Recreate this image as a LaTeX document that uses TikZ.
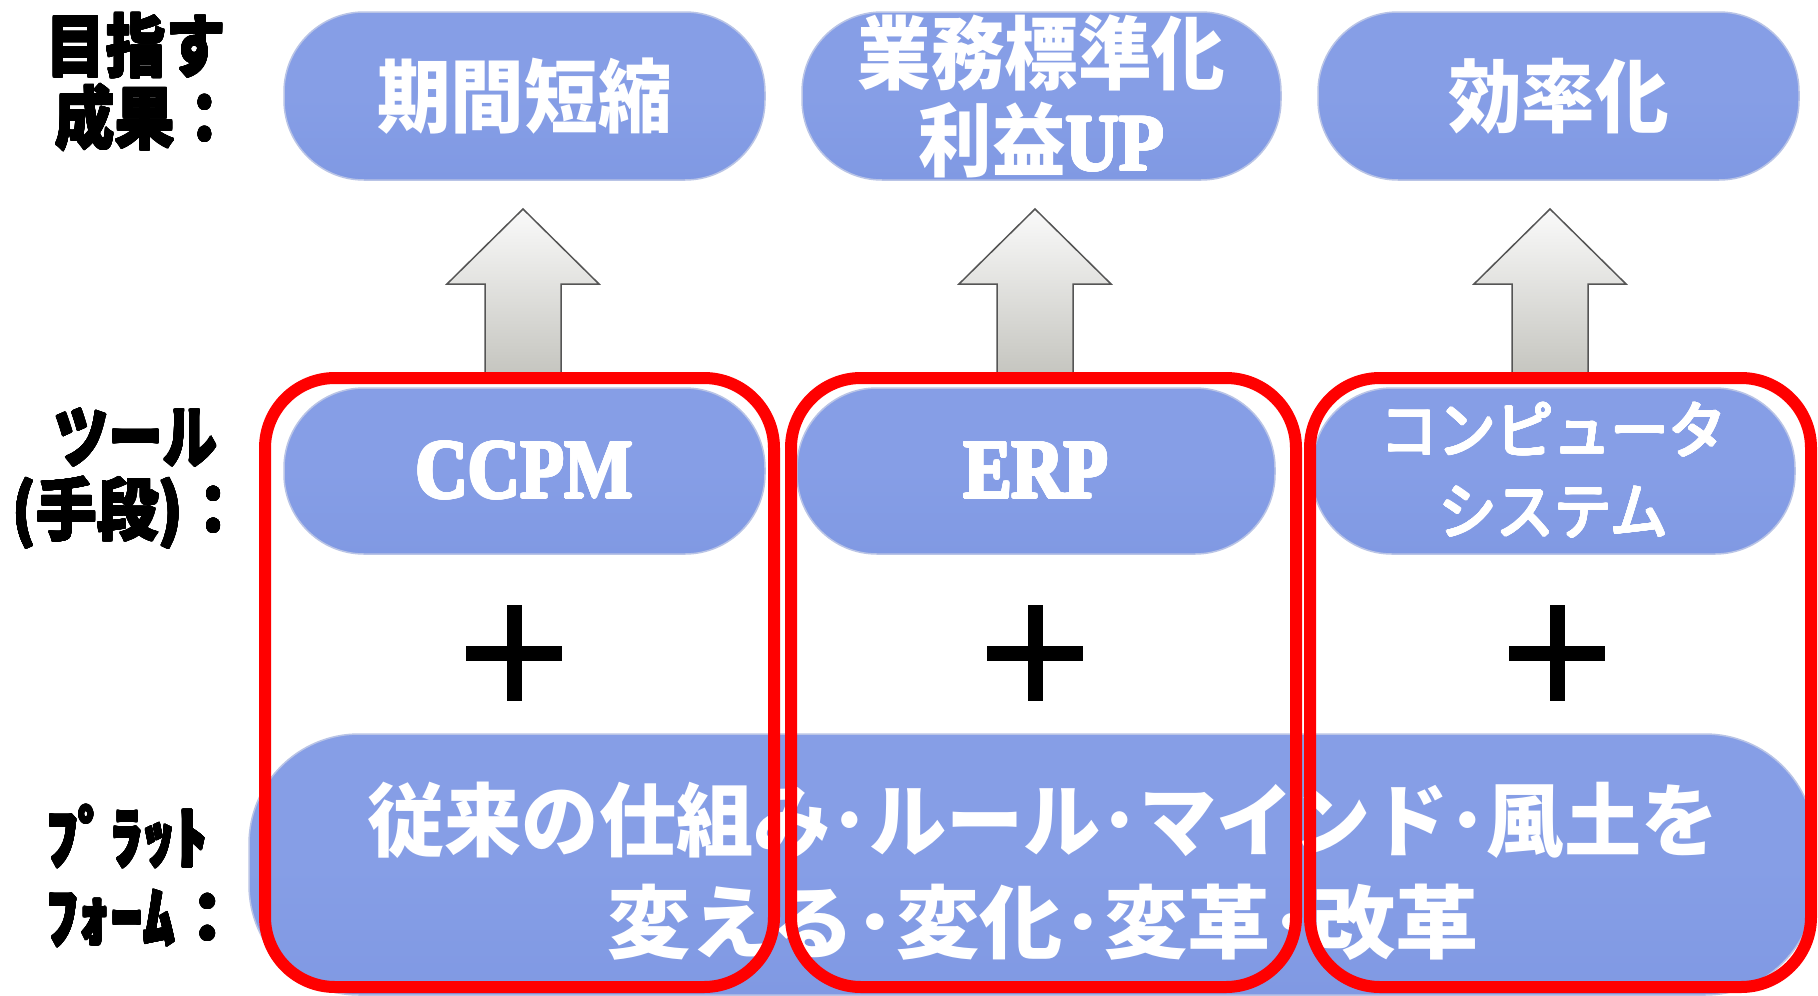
\documentclass[tikz,border=0pt]{standalone}
\usepackage{fontspec}
\usepackage{contour}
\contournumber{24}
\setmainfont{Liberation Serif}
\newfontfamily\jp{Noto Sans CJK JP}
\usetikzlibrary{calc}
\definecolor{pillTop}{RGB}{180,204,253}
\definecolor{pillMid}{RGB}{134,158,230}
\definecolor{pillBot}{RGB}{122,148,224}
\definecolor{pillEdge}{RGB}{185,196,230}
\definecolor{arrTop}{RGB}{250,250,250}
\definecolor{arrBot}{RGB}{196,196,190}
\definecolor{arrEdge}{RGB}{85,85,85}
\pgfdeclareverticalshading{pillshade}{100bp}{color(0bp)=(pillBot); color(50bp)=(pillMid); color(80bp)=(pillMid); color(100bp)=(pillTop)}
\newcommand{\cond}[2]{\scalebox{#1}[1]{#2}}
\newcommand{\thickw}[2]{\contourlength{#1}\contour{white}{#2}}
\newcommand{\thickb}[2]{\contourlength{#1}\contour{black}{#2}}
\begin{document}
\begin{tikzpicture}[x=1pt,y=-1pt,
  pill/.style={rounded corners=80pt, shading=pillshade, shading angle=0,
    draw=pillEdge, line width=1.5pt, inner sep=0pt, text=white, align=center},
  jptxt/.style={font=\jp\bfseries\fontsize{80}{87}\selectfont},
  latxt/.style={font=\bfseries\fontsize{84}{90}\selectfont},
  lab/.style={font=\jp\bfseries\fontsize{68}{70}\selectfont, text=black, inner sep=0pt},
  redbox/.style={draw=red, line width=12pt, rounded corners=70pt, inner sep=0pt},
  blockarrow/.style={top color=arrTop, bottom color=arrBot, draw=arrEdge, line width=1.5pt}]
\useasboundingbox (0,0) rectangle (1818,996);
\fill[white] (0,0) rectangle (1818,996);

% bottom platform pill
\node[pill, rounded corners=110pt, minimum width=1566pt, minimum height=261pt] (bot) at (1032,864.5) {};
\node[text=white, font=\jp\bfseries\fontsize{80}{102}\selectfont, align=center, inner sep=0pt] (bottxt) at (1043,871)
  {\cond{0.965}{従来の仕組み･ルール･マインド･風土を}\\\cond{1.04}{変える･変化･変革･改革}};

% middle tool pills
\node[pill, minimum width=481pt, minimum height=166pt, latxt] (m1) at (524.5,471) {\cond{0.86}{\thickw{1.6pt}{CCPM}}};
\node[pill, minimum width=478pt, minimum height=166pt, latxt] (m2) at (1036,471) {\cond{0.86}{\thickw{1.6pt}{ERP}}};
\node[pill, minimum width=483pt, minimum height=166pt, font=\jp\fontsize{62}{81}\selectfont] (m3) at (1553.5,471) {\cond{0.93}{\thickw{1.3pt}{コンピュータ}}\\\cond{0.93}{\thickw{1.3pt}{システム}}};

% top result pills
\node[pill, minimum width=481pt, minimum height=168pt, jptxt] (t1) at (524.5,96) {\cond{0.92}{期間短縮}};
\node[pill, minimum width=479pt, minimum height=168pt, jptxt] (t2) at (1041.5,96) {\cond{0.92}{業務標準化}\\\cond{0.92}{利益{\rmfamily\bfseries\thickw{1.2pt}{UP}}}};
\node[pill, minimum width=481pt, minimum height=168pt, jptxt] (t3) at (1558.5,96) {\cond{0.92}{効率化}};

% block arrows
\coordinate (a1) at (523,209);
\coordinate (a2) at (1035,209);
\coordinate (a3) at (1550,209);
\foreach \a in {a1,a2,a3}{
  \draw[blockarrow] (\a) -- ($(\a)+(76,75)$) -- ($(\a)+(38,75)$) -- ($(\a)+(38,169)$)
    -- ($(\a)+(-38,169)$) -- ($(\a)+(-38,75)$) -- ($(\a)+(-76,75)$) -- cycle;
}

% plus signs
\coordinate (p1) at (514,653);
\coordinate (p2) at (1035,653);
\coordinate (p3) at (1557,653);
\foreach \p in {p1,p2,p3}{
  \fill[black] ($(\p)+(-48,-7.5)$) rectangle ($(\p)+(48,7.5)$);
  \fill[black] ($(\p)+(-7.5,-48)$) rectangle ($(\p)+(7.5,48)$);
}

% red frames
\node[redbox, minimum width=509pt, minimum height=609pt] (r1) at (519.5,682.5) {};
\node[redbox, minimum width=505pt, minimum height=609pt] (r2) at (1043.5,682.5) {};
\node[redbox, minimum width=501pt, minimum height=609pt] (r3) at (1560.5,682.5) {};

% left labels
\node[lab] (l1a) at (136,46) {\cond{0.88}{\thickb{0.8pt}{目指す}}};
\node[lab] (l1b) at (145,118) {\cond{0.88}{\thickb{0.8pt}{成果：}}};
\node[lab] (l2a) at (136,438) {\cond{0.8}{\thickb{0.8pt}{ツール}}};
\node[lab] (l2b) at (128,513) {\cond{0.9}{\thickb{0.8pt}{(手段)：}}};
\node[lab, anchor=west] (l3a) at (46,837) {\cond{0.95}{\thickb{0.8pt}{ﾌﾟﾗｯﾄ}}};
\node[lab, anchor=west] (l3b) at (46,919) {\cond{0.95}{\thickb{0.8pt}{ﾌｫｰﾑ：}}};
\end{tikzpicture}
\end{document}
